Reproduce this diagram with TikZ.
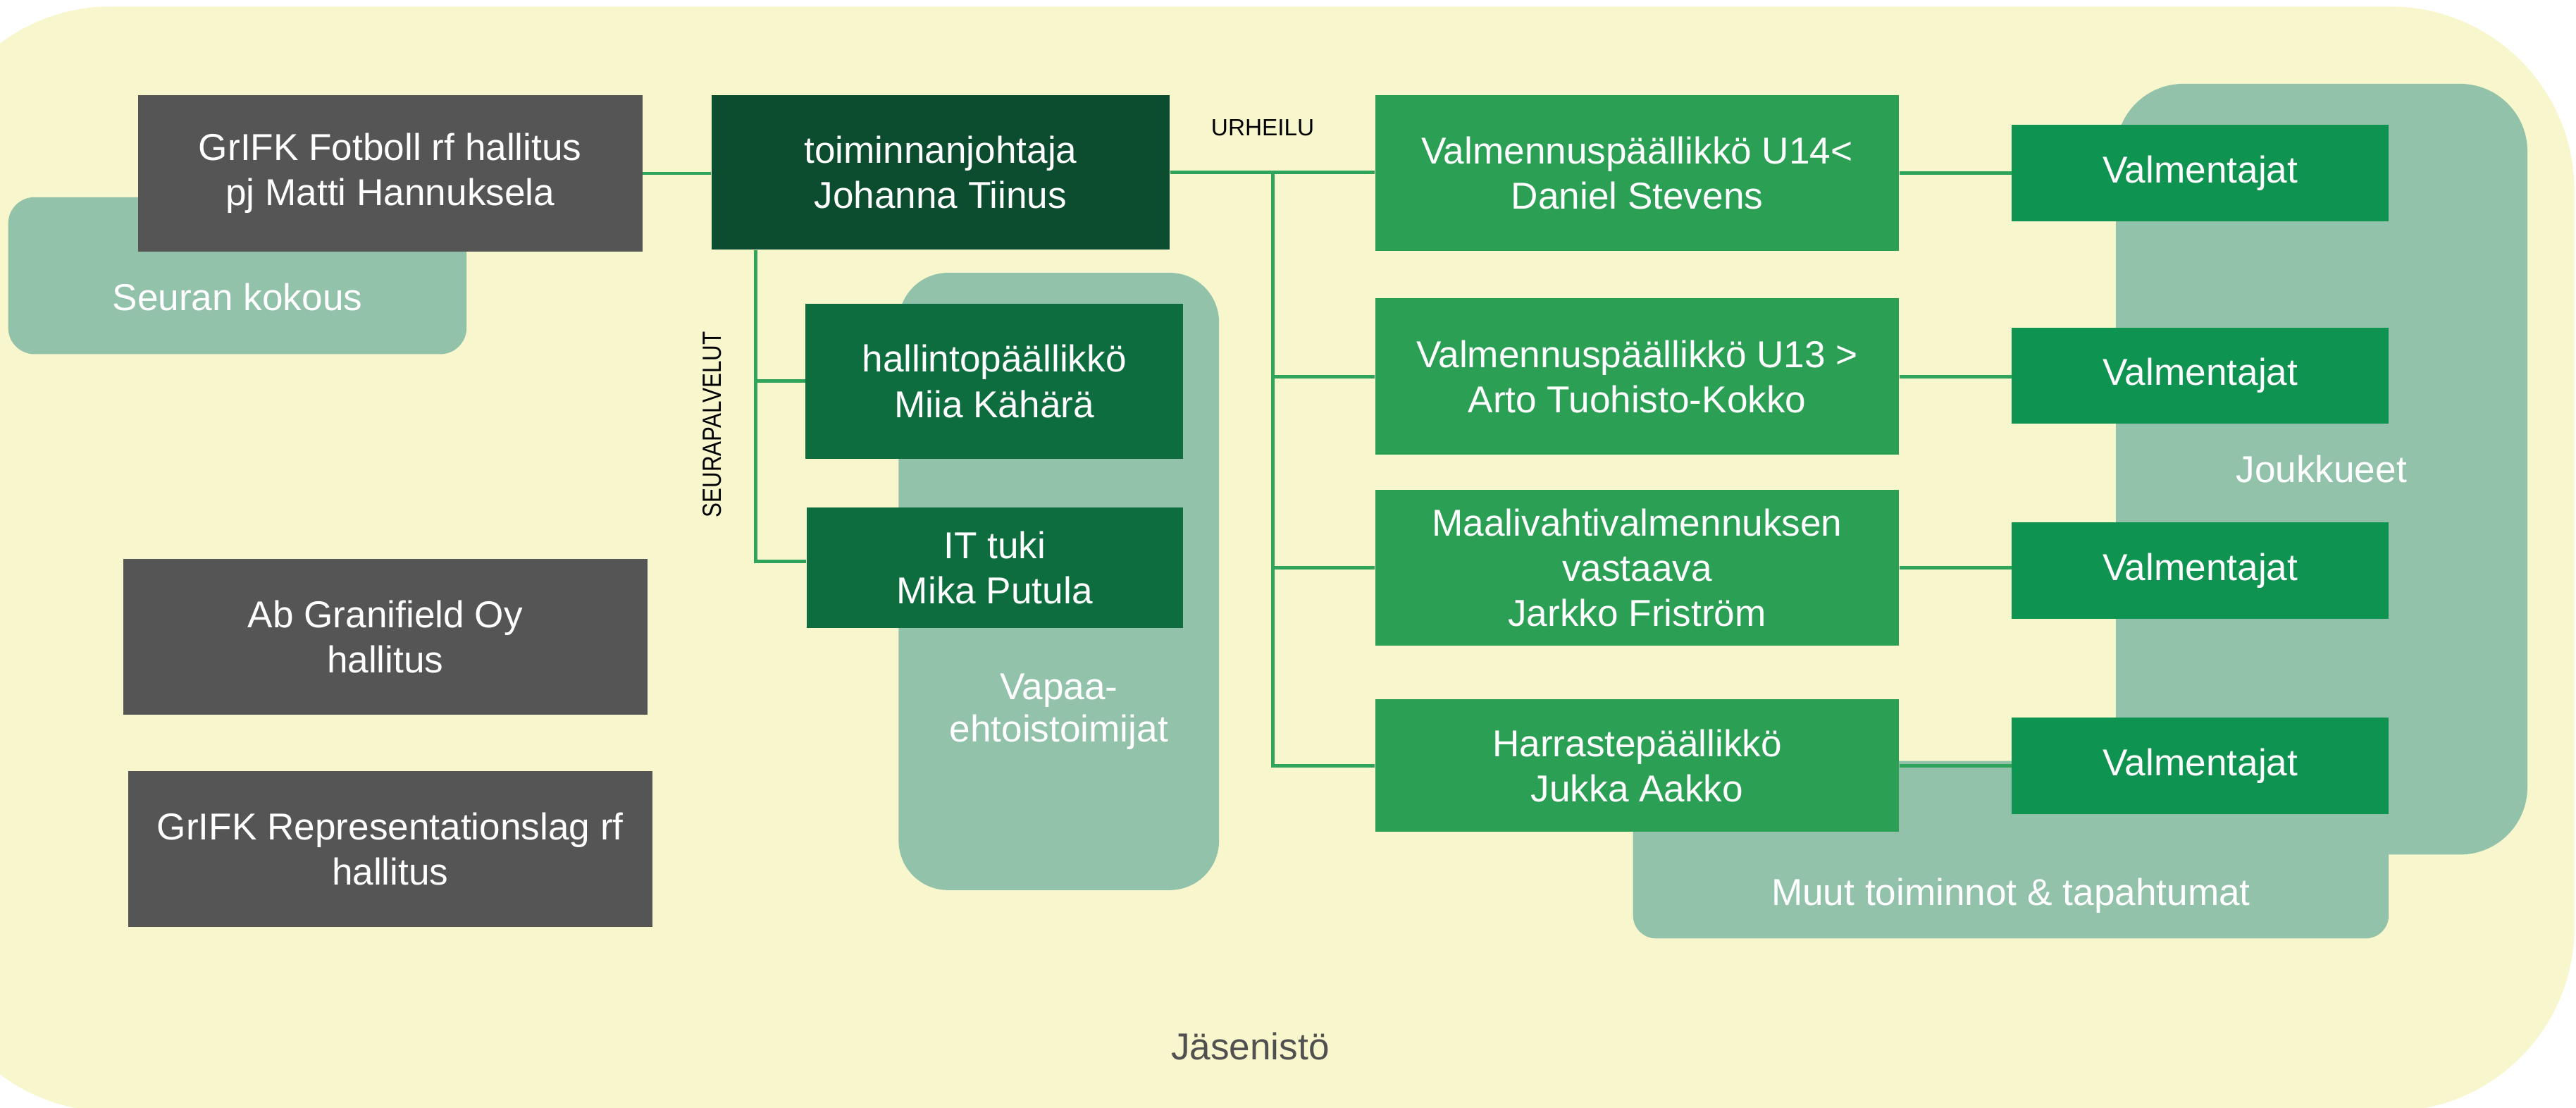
\documentclass[tikz,border=0pt]{standalone}
\usepackage{fontspec}
\setmainfont{Liberation Sans}
\newfontfamily\condfont[FakeStretch=0.84]{Liberation Sans}
\definecolor{bgyellow}{HTML}{F8F6CC}
\definecolor{sage}{HTML}{93C2AB}
\definecolor{boxgray}{HTML}{555555}
\definecolor{darkgreen}{HTML}{0B4D2E}
\definecolor{midgreen}{HTML}{0E6D3F}
\definecolor{brightgreen}{HTML}{2BA055}
\definecolor{coachgreen}{HTML}{0F9351}
\definecolor{linegreen}{HTML}{2EA55A}
\definecolor{labelgray}{HTML}{505050}
\begin{document}
\begin{tikzpicture}[x=1pt,y=-1pt,
  conn/.style={draw=linegreen, line width=2.1pt},
  box/.style={rectangle, inner sep=0pt, align=center, text=white,
    font=\fontsize{22.8}{27.5}\selectfont},
  graybox/.style={box, fill=boxgray, minimum width=319pt, minimum height=95pt},
  vbox/.style={box, fill=brightgreen, minimum width=319pt, minimum height=95pt},
  coach/.style={box, fill=coachgreen, minimum width=229.5pt, minimum height=58.7pt},
  lbl/.style={inner sep=0pt, text=white, font=\fontsize{22.8}{25.5}\selectfont},
  panel/.style={fill=sage}
]
\useasboundingbox (0,0) rectangle (1568,673.8);
\clip (0,0) rectangle (1568,673.8);

% membership background
\fill[bgyellow, rounded corners=112pt] (-44.7,4) rectangle (1567,676.2);

% panels
\fill[panel, rounded corners=16pt] (5,120) rectangle (284,215.5);
\fill[panel, rounded corners=30pt] (547,166) rectangle (742,541.6);
\fill[panel, rounded corners=41pt] (1288,51) rectangle (1538.4,520);
\fill[panel, rounded corners=14pt] (994,463) rectangle (1454,571);

% panel labels
\node[lbl, anchor=base] (seuranlbl) at (144.5,189) {Seuran kokous};
\node[lbl, align=center] (vapaalbl) at (644.5,433) {Vapaa-\\ehtoistoimijat};
\node[lbl, anchor=base] (joukklbl) at (1413,293.7) {Joukkueet};
\node[lbl, anchor=base] (muutlbl) at (1224,550.7) {Muut toiminnot \& tapahtumat};
\node[inner sep=0pt, anchor=base, text=labelgray, font=\fontsize{22.8}{25}\selectfont] (jasen) at (761,645) {Jäsenistö};

% boxes
\node[graybox, minimum width=307pt] (fotboll) at (237.5,105.5) {GrIFK Fotboll rf hallitus\\pj Matti Hannuksela};
\node[box, fill=darkgreen, minimum width=279pt, minimum height=94pt] (toim) at (572.5,105) {toiminnanjohtaja\\Johanna Tiinus};
\node[box, fill=midgreen, minimum width=230pt, minimum height=94.5pt] (hall) at (605.2,232) {hallintopäällikkö\\Miia Kähärä};
\node[box, fill=midgreen, minimum width=229pt, minimum height=73pt] (it) at (605.5,345.5) {IT tuki\\Mika Putula};
\node[graybox] (granifield) at (234.5,387.5) {Ab Granifield Oy\\hallitus};
\node[graybox] (repr) at (237.5,516.5) {GrIFK Representationslag rf\\hallitus};

\node[vbox] (u14) at (996.5,105.3) {Valmennuspäällikkö U14<\\Daniel Stevens};
\node[vbox] (u13) at (996.5,229.1) {Valmennuspäällikkö U13 >\\Arto Tuohisto-Kokko};
\node[vbox] (maali) at (996.5,345.5) {Maalivahtivalmennuksen\\vastaava\\Jarkko Friström};
\node[vbox, minimum height=80.4pt] (harr) at (996.5,465.8) {Harrastepäällikkö\\Jukka Aakko};

\node[coach] (v1) at (1339.3,105.4) {Valmentajat};
\node[coach] (v2) at (1339.3,228.6) {Valmentajat};
\node[coach] (v3) at (1339.3,347.3) {Valmentajat};
\node[coach] (v4) at (1339.3,465.9) {Valmentajat};

% small labels
\node[inner sep=0pt, anchor=base, text=black, font=\fontsize{14.3}{16}\selectfont] (urh) at (768.6,82.7) {URHEILU};
\node[inner sep=0pt, anchor=base, rotate=90, text=black, font=\condfont\fontsize{16}{18}\selectfont] (seura) at (438.9,258.4) {SEURAPALVELUT};

% connectors
\coordinate (ux) at (774.7,0);
\coordinate (sx) at (460,0);
\draw[conn] (fotboll.east) -- (fotboll.east -| toim.west);
\draw[conn] (toim.east) -- (toim.east -| u14.west);
\draw[conn] (ux |- toim.east) |- (harr.west);
\draw[conn] (ux |- u13.west) -- (u13.west);
\draw[conn] (ux |- maali.west) -- (maali.west);
\draw[conn] (sx |- toim.south) |- ([yshift=3.8pt]it.west);
\draw[conn] (sx |- hall.west) -- (hall.west);
\draw[conn] (u14.east) -- (u14.east -| v1.west);
\draw[conn] (u13.east) -- (u13.east -| v2.west);
\draw[conn] (maali.east) -- (maali.east -| v3.west);
\draw[conn] (harr.east) -- (harr.east -| v4.west);
\end{tikzpicture}
\end{document}
